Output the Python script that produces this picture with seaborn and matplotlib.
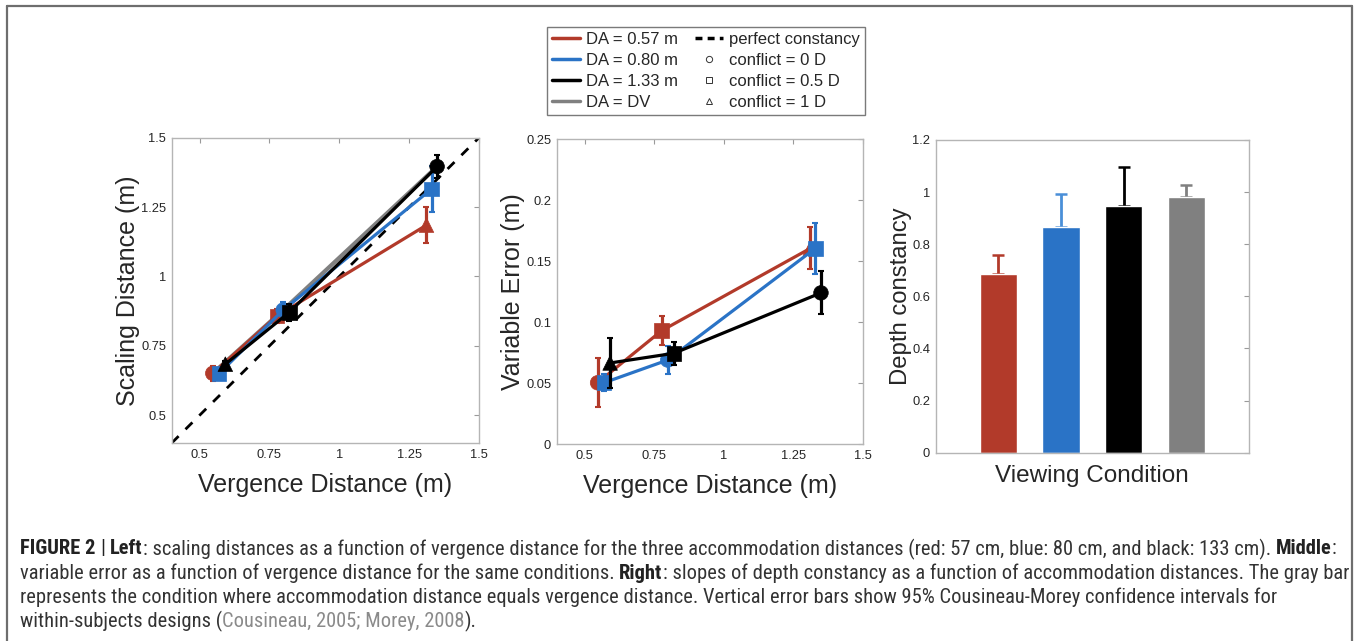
import numpy as np
import pandas as pd
import seaborn as sns
import matplotlib.pyplot as plt
from matplotlib.lines import Line2D
from matplotlib import font_manager as fm

# colours of the accommodation conditions
RED = '#b23a2a'
BLUE = '#2a73c6'
BLACK = '#000000'
GRAY = '#808080'

# left / middle panels: one list per accommodation distance (DA)
conflict_markers = {'0 D': 'o', '0.5 D': 's', '1 D': '^'}

red_vd = [0.547, 0.777, 1.312]
red_conflict = ['0 D', '0.5 D', '1 D']
red_scaling = [0.651, 0.858, 1.185]
red_scaling_err = [0.028, 0.026, 0.066]
red_varerr = [0.0504, 0.093, 0.1605]
red_varerr_err = [0.020, 0.0117, 0.0172]

blue_vd = [0.570, 0.799, 1.330]
blue_conflict = ['0.5 D', '0 D', '0.5 D']
blue_scaling = [0.651, 0.879, 1.315]
blue_scaling_err = [0.015, 0.030, 0.084]
blue_varerr = [0.0504, 0.069, 0.1605]
blue_varerr_err = [0.0068, 0.0114, 0.021]

black_vd = [0.592, 0.821, 1.350]
black_conflict = ['1 D', '0.5 D', '0 D']
black_scaling = [0.684, 0.871, 1.396]
black_scaling_err = [0.012, 0.030, 0.042]
black_varerr = [0.0666, 0.0745, 0.1240]
black_varerr_err = [0.0207, 0.0093, 0.0177]

# DA = DV condition (only in the left panel)
dv_vd = [0.547, 0.799, 1.350]
dv_scaling = [0.651, 0.879, 1.396]

# right panel
conditions = ['DA = 0.57 m', 'DA = 0.80 m', 'DA = 1.33 m', 'DA = DV']
slopes = [0.685, 0.865, 0.945, 0.980]
slopes_err = [0.073, 0.128, 0.152, 0.047]
bar_colors = [RED, BLUE, BLACK, GRAY]
err_colors = [RED, '#4a8fd8', BLACK, GRAY]

W, H = 1357, 641
sns.set_theme(style="white")
plt.rcParams['font.family'] = ['Liberation Sans', 'DejaVu Sans']
plt.rcParams['text.color'] = '#262626'
plt.rcParams['axes.labelcolor'] = '#262626'

fig = plt.figure(figsize=(W / 100, H / 100), dpi=100)
fig.patch.set_facecolor('white')


def px_axes(x0, y0, x1, y1):
    return fig.add_axes([x0 / W, 1 - y1 / H, (x1 - x0) / W, (y1 - y0) / H])


def style_axes(ax):
    for s in ax.spines.values():
        s.set_color('#b5b5b5')
        s.set_linewidth(1.0)
    ax.tick_params(direction='in', length=3.5, width=0.8, color='#9a9a9a',
                   labelsize=9.3, labelcolor='#262626', top=True, right=True,
                   pad=4)


def draw_group(ax, vd, vals, errs, conflicts, color, z, lw=2.3):
    ax.errorbar(vd, vals, yerr=errs, fmt='none', ecolor=color, elinewidth=2.3,
                capsize=2.5, capthick=1.5, zorder=z)
    sns.lineplot(x=vd, y=vals, sort=False, color=color, lw=lw, ax=ax,
                 legend=False, zorder=z)
    df = pd.DataFrame({'vd': vd, 'val': vals, 'conflict': conflicts})
    sns.scatterplot(data=df, x='vd', y='val', style='conflict',
                    markers=conflict_markers, color=color, s=110,
                    edgecolor=color, linewidth=0.5, ax=ax, legend=False,
                    zorder=z)


# ---- left: scaling distance
ax1 = px_axes(171.7, 137.7, 479, 443)
ax1.plot([0.4, 1.5], [0.4, 1.5], color='black', lw=2.0, ls=(0, (3.5, 3.5)),
         zorder=1)
sns.lineplot(x=dv_vd, y=dv_scaling, sort=False, color=GRAY, lw=3.0, ax=ax1,
             legend=False, zorder=1.5)
draw_group(ax1, red_vd, red_scaling, red_scaling_err, red_conflict, RED, 2)
draw_group(ax1, blue_vd, blue_scaling, blue_scaling_err, blue_conflict, BLUE, 3)
draw_group(ax1, black_vd, black_scaling, black_scaling_err, black_conflict,
           BLACK, 4)
ax1.set_xlim(0.4, 1.5)
ax1.set_ylim(0.4, 1.5)
ticks = [0.5, 0.75, 1, 1.25, 1.5]
ax1.set_xticks(ticks, ['0.5', '0.75', '1', '1.25', '1.5'])
ax1.set_yticks(ticks, ['0.5', '0.75', '1', '1.25', '1.5'])
ax1.set_xlabel('Vergence Distance (m)', fontsize=18, labelpad=9)
ax1.set_ylabel('Scaling Distance (m)', fontsize=18, labelpad=1)
style_axes(ax1)

# ---- middle: variable error
ax2 = px_axes(556.7, 139, 862.7, 444.3)
draw_group(ax2, red_vd, red_varerr, red_varerr_err, red_conflict, RED, 2)
draw_group(ax2, blue_vd, blue_varerr, blue_varerr_err, blue_conflict, BLUE, 3)
draw_group(ax2, black_vd, black_varerr, black_varerr_err, black_conflict,
           BLACK, 4)
ax2.set_xlim(0.4, 1.5)
ax2.set_ylim(0, 0.25)
ax2.set_xticks(ticks, ['0.5', '0.75', '1', '1.25', '1.5'])
ax2.set_yticks([0, 0.05, 0.1, 0.15, 0.2, 0.25],
               ['0', '0.05', '0.1', '0.15', '0.2', '0.25'])
ax2.set_xlabel('Vergence Distance (m)', fontsize=18, labelpad=9)
ax2.set_ylabel('Variable Error (m)', fontsize=18, labelpad=1)
style_axes(ax2)

# ---- right: depth constancy bars
ax3 = px_axes(935.7, 140, 1249, 452.7)
sns.barplot(x=conditions, y=slopes, hue=conditions, palette=bar_colors,
            width=0.6, saturation=1, legend=False, ax=ax3, zorder=2)
for i in range(len(slopes)):
    ax3.errorbar([i], [slopes[i]], yerr=[[0], [slopes_err[i]]], fmt='none',
                 ecolor=err_colors[i], elinewidth=2.0, capsize=4.5,
                 capthick=1.8, zorder=1)
ax3.set_xlim(-1, 4)
ax3.set_ylim(0, 1.2)
ax3.set_xticks([])
ax3.set_yticks([0, 0.2, 0.4, 0.6, 0.8, 1.0, 1.2],
               ['0', '0.2', '0.4', '0.6', '0.8', '1', '1.2'])
ax3.set_xlabel('Viewing Condition', fontsize=17.5, labelpad=9)
ax3.set_ylabel('Depth constancy', fontsize=17.2, labelpad=0)
style_axes(ax3)

# ---- shared legend
handles = [
    Line2D([], [], color=RED, lw=2.5),
    Line2D([], [], color=BLUE, lw=2.5),
    Line2D([], [], color=BLACK, lw=2.5),
    Line2D([], [], color=GRAY, lw=2.5),
    Line2D([], [], color='black', lw=2.5, ls=(0, (2, 1.5))),
    Line2D([], [], ls='none', marker='o', ms=4.5, mfc='none', mec='#333',
           mew=0.7),
    Line2D([], [], ls='none', marker='s', ms=4.5, mfc='none', mec='#333',
           mew=0.7),
    Line2D([], [], ls='none', marker='^', ms=4.5, mfc='none', mec='#333',
           mew=0.7),
]
labels = conditions + ['perfect constancy', 'conflict = 0 D',
                       'conflict = 0.5 D', 'conflict = 1 D']
leg = fig.legend(handles, labels, ncol=2, loc='upper left',
                 bbox_to_anchor=(547 / W, 1 - 27 / H), fontsize=12,
                 frameon=True, fancybox=False, edgecolor='#7a7a7a',
                 framealpha=1, handlelength=1.7, handletextpad=0.35,
                 labelspacing=0.36, columnspacing=1.0, borderpad=0.3,
                 borderaxespad=0)
leg.get_frame().set_linewidth(1.0)

# ---- frame around the figure
for xs, ys in [([7, 1352], [6, 6]), ([7, 7], [6, H + 2]),
               ([1352, 1352], [6, H + 2])]:
    fig.add_artist(Line2D([x / W for x in xs], [1 - y / H for y in ys],
                          color='#6e6e6e', lw=1.6))

# ---- caption (narrow face if one is installed)
names = {f.name for f in fm.fontManager.ttflist}
cap_font = ['Liberation Sans', 'DejaVu Sans']
for cand in ['Liberation Sans Narrow', 'Roboto Condensed',
             'Open Sans Condensed', 'Noto Sans Condensed',
             'DejaVu Sans Condensed']:
    if cand in names:
        cap_font = [cand, 'DejaVu Sans']
        break

caption = [
    [('FIGURE 2', 'bold', '#222', True), ('|', 'normal', '#222', True),
     ('Left', 'bold', '#222', False),
     (': scaling distances as a function of vergence distance for the three '
      'accommodation distances (red: 57 cm, blue: 80 cm, and black: 133 cm).',
      'normal', '#333', True),
     ('Middle', 'bold', '#222', False), (':', 'normal', '#333', False)],
    [('variable error as a function of vergence distance for the same '
      'conditions.', 'normal', '#333', True),
     ('Right', 'bold', '#222', False),
     (': slopes of depth constancy as a function of accommodation distances. '
      'The gray bar', 'normal', '#333', False)],
    [('represents the condition where accommodation distance equals vergence '
      'distance. Vertical error bars show 95% Cousineau-Morey confidence '
      'intervals for', 'normal', '#333', False)],
    [('within-subjects designs (', 'normal', '#333', False),
     ('Cousineau, 2005; Morey, 2008', 'normal', '#8a8a8a', False),
     (').', 'normal', '#333', False)],
]
renderer = fig.canvas.get_renderer()


def text_w(s, size, weight):
    t = fig.text(0, 0, s, fontsize=size, fontweight=weight, family=cap_font)
    w = t.get_window_extent(renderer).width
    t.remove()
    return w


def line_w(pieces, size):
    sp = text_w('a a', size, 'normal') - text_w('aa', size, 'normal')
    return sum(text_w(p[0], size, p[1]) + (sp if p[3] else 0) for p in pieces)


# fit the caption lines into the width of the original caption
size = 10
size = min(size * 1322 / line_w(caption[0], size),
           size * 1312 / line_w(caption[1], size))
space = text_w('a a', size, 'normal') - text_w('aa', size, 'normal')

for i, pieces in enumerate(caption):
    x = 20
    y = 549 + i * 24.3
    for s, weight, color, gap in pieces:
        fig.text(x / W, 1 - y / H, s, fontsize=size, fontweight=weight,
                 color=color, family=cap_font, va='center', ha='left')
        x += text_w(s, size, weight) + (space if gap else 0)

fig.savefig('out.png', dpi=100)
